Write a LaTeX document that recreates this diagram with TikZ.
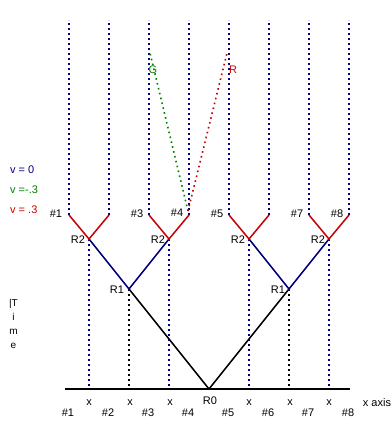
\documentclass[tikz,border=0pt]{standalone}
\usepackage{fontspec}
\setmainfont{Liberation Sans}
\definecolor{vnavy}{RGB}{0,0,128}
\definecolor{vgreen}{RGB}{0,128,0}
\definecolor{vred}{RGB}{200,0,0}
\begin{document}
\begin{tikzpicture}[x=1pt, y=-1pt,
            world/.style={vnavy, line width=1.6pt, dash pattern=on 1.6pt off 3.4pt},
            drop/.style={black, line width=1.6pt, dash pattern=on 1.6pt off 3.4pt},
            ray/.style={line width=1.6pt, dash pattern=on 1.6pt off 3.4pt},
            arm/.style={line width=1.5pt},
            lbl/.style={font=\fontsize{11}{13}\selectfont, inner sep=0pt},
        ]
            \useasboundingbox (0,0) rectangle (390,435);

            % Decay vertices
            \coordinate (r0) at (209,389);
            \coordinate (r1a) at (129,289);
            \coordinate (r1b) at (289,289);
            \coordinate (r2a) at (89,239);
            \coordinate (r2b) at (169,239);
            \coordinate (r2c) at (249,239);
            \coordinate (r2d) at (329,239);

            % Final particle world lines
            \coordinate (t1) at (69,20);  \coordinate (b1) at (69,215);
            \coordinate (t2) at (109,20); \coordinate (b2) at (109,215);
            \coordinate (t3) at (149,20); \coordinate (b3) at (149,215);
            \coordinate (t4) at (189,20); \coordinate (b4) at (189,215);
            \coordinate (t5) at (229,20); \coordinate (b5) at (229,215);
            \coordinate (t6) at (269,20); \coordinate (b6) at (269,215);
            \coordinate (t7) at (309,20); \coordinate (b7) at (309,215);
            \coordinate (t8) at (349,20); \coordinate (b8) at (349,215);
            \draw[world] (b1) -- (t1);
            \draw[world] (b2) -- (t2);
            \draw[world] (b3) -- (t3);
            \draw[world] (b4) -- (t4);
            \draw[world] (b5) -- (t5);
            \draw[world] (b6) -- (t6);
            \draw[world] (b7) -- (t7);
            \draw[world] (b8) -- (t8);

            % Positions on the x axis
            \coordinate (axl) at (65,389);
            \coordinate (axr) at (350,389);
            \coordinate (x1) at (89,389);
            \coordinate (x2) at (129,389);
            \coordinate (x3) at (169,389);
            \coordinate (x5) at (249,389);
            \coordinate (x6) at (289,389);
            \coordinate (x7) at (329,389);
            \draw[world] (r2a) -- (x1);
            \draw[drop] (r1a) -- (x2);
            \draw[world] (r2b) -- (x3);
            \draw[world] (r2c) -- (x5);
            \draw[drop] (r1b) -- (x6);
            \draw[world] (r2d) -- (x7);

            % Observer rays from #4
            \coordinate (obs) at (188,211);
            \coordinate (gtop) at (150,53);
            \coordinate (rtop) at (227,53);
            \draw[ray, vgreen] (obs) -- (gtop);
            \draw[ray, vred] (obs) -- (rtop);
            \node[lbl, vgreen] (glbl) at (153,70) {G};
            \node[lbl, vred] (rlbl) at (233,70) {R};

            % Branches: v = 0 (black), v = -.3 / .3 (navy, red)
            \draw[arm] (axl) -- (axr);
            \draw[arm] (r1a) -- (r0) -- (r1b);
            \draw[arm, vnavy] (r2a) -- (r1a) -- (r2b);
            \draw[arm, vnavy] (r2c) -- (r1b) -- (r2d);
            \draw[arm, vred] (b1) -- (r2a) -- (b2);
            \draw[arm, vred] (b3) -- (r2b) -- (b4);
            \draw[arm, vred] (b5) -- (r2c) -- (b6);
            \draw[arm, vred] (b7) -- (r2d) -- (b8);

            % Vertex labels
            \node[lbl] (lr0) at (210,401) {R0};
            \node[lbl] (lr1a) at (117,290) {R1};
            \node[lbl] (lr1b) at (278,290) {R1};
            \node[lbl] (lr2a) at (78,240) {R2};
            \node[lbl] (lr2b) at (158,240) {R2};
            \node[lbl] (lr2c) at (238,240) {R2};
            \node[lbl] (lr2d) at (318,240) {R2};

            % Particle labels at the top
            \node[lbl] (p1) at (56,214) {\#1};
            \node[lbl] (p3) at (137,214) {\#3};
            \node[lbl] (p4) at (177,213) {\#4};
            \node[lbl] (p5) at (217,214) {\#5};
            \node[lbl] (p7) at (297,214) {\#7};
            \node[lbl] (p8) at (337,214) {\#8};

            % Axis labels
            \node[lbl] (xl1) at (89,403) {x};
            \node[lbl] (xl2) at (130,403) {x};
            \node[lbl] (xl3) at (170,403) {x};
            \node[lbl] (xl5) at (249,403) {x};
            \node[lbl] (xl6) at (290,403) {x};
            \node[lbl] (xl7) at (329,403) {x};
            \node[lbl] (xaxis) at (377,403) {x axis};
            \node[lbl] (q1) at (68,413) {\#1};
            \node[lbl] (q2) at (108,413) {\#2};
            \node[lbl] (q3) at (148,413) {\#3};
            \node[lbl] (q4) at (188,413) {\#4};
            \node[lbl] (q5) at (228,413) {\#5};
            \node[lbl] (q6) at (268,413) {\#6};
            \node[lbl] (q7) at (308,413) {\#7};
            \node[lbl] (q8) at (348,413) {\#8};

            % Legend and time axis
            \node[lbl, vnavy, anchor=west] (leg0) at (10,170) {v = 0};
            \node[lbl, vgreen, anchor=west] (legg) at (10,190) {v =-.3};
            \node[lbl, vred, anchor=west] (legr) at (10,210) {v = .3};
            \node[lbl, align=center, font=\fontsize{10}{14}\selectfont] (time) at (13.5,324) {|T\\i\\m\\e};
        \end{tikzpicture}
\end{document}
